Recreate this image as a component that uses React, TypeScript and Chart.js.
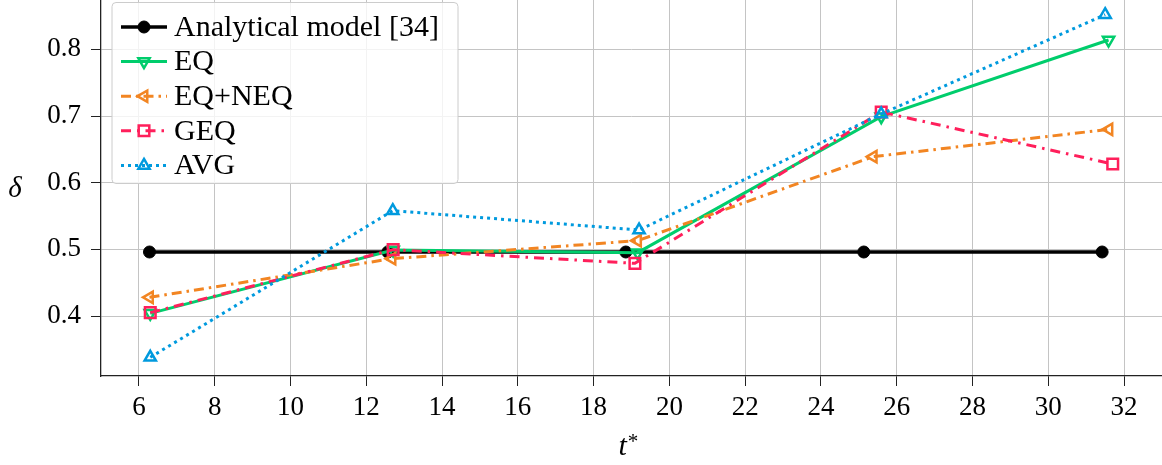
import { useEffect, useRef } from 'react';
import { Chart, registerables } from 'chart.js';

Chart.register(...registerables);

// Axis ticks
const xTicks = [6, 8, 10, 12, 14, 16, 18, 20, 22, 24, 26, 28, 30, 32];
const yTicks = [0.4, 0.5, 0.6, 0.7, 0.8];

// Analytical model [34]
const analyticalT = [6.28, 12.57, 18.85, 25.13, 31.42];
const analyticalDelta = [0.496, 0.496, 0.496, 0.496, 0.496];

// EQ
const eqT = [6.3, 12.71, 19.16, 25.59, 31.59];
const eqDelta = [0.404, 0.499, 0.495, 0.699, 0.814];

// EQ+NEQ
const eqNeqT = [6.28, 12.68, 19.16, 25.38, 31.6];
const eqNeqDelta = [0.428, 0.486, 0.513, 0.639, 0.68];

// GEQ
const geqT = [6.3, 12.71, 19.09, 25.59, 31.7];
const geqDelta = [0.405, 0.4995, 0.479, 0.706, 0.628];

// AVG
const avgT = [6.3, 12.7, 19.2, 25.59, 31.5];
const avgDelta = [0.338, 0.558, 0.529, 0.703, 0.852];

const SERIF = "'Liberation Serif', 'DejaVu Serif', serif";

const toPoints = (xs: number[], ys: number[]) => xs.map((x, i) => ({ x, y: ys[i] }));

// Draws a marker with the same geometry Chart.js uses for its point styles
function drawMarker(
  ctx: CanvasRenderingContext2D,
  style: string,
  x: number,
  y: number,
  r: number,
  rotDeg: number,
  fill: string,
  stroke: string,
  lw: number
) {
  ctx.save();
  ctx.beginPath();
  let rad = (rotDeg * Math.PI) / 180;
  if (style === 'circle') {
    ctx.arc(x, y, r, 0, Math.PI * 2);
  } else if (style === 'triangle') {
    ctx.moveTo(x + Math.sin(rad) * r, y - Math.cos(rad) * r);
    rad += (2 * Math.PI) / 3;
    ctx.lineTo(x + Math.sin(rad) * r, y - Math.cos(rad) * r);
    rad += (2 * Math.PI) / 3;
    ctx.lineTo(x + Math.sin(rad) * r, y - Math.cos(rad) * r);
    ctx.closePath();
  } else {
    const s = Math.SQRT1_2 * r;
    ctx.rect(x - s, y - s, 2 * s, 2 * s);
  }
  if (fill !== 'transparent') {
    ctx.fillStyle = fill;
    ctx.fill();
  }
  ctx.lineWidth = lw;
  ctx.strokeStyle = stroke;
  ctx.stroke();
  ctx.restore();
}

const overlayPlugin = {
  id: 'overlay',
  afterDraw(chart: any) {
    const ctx: CanvasRenderingContext2D = chart.ctx;
    const area = chart.chartArea;

    // Legend box inside the plot, upper left
    const bx = area.left + 11;
    const by = 2.5;
    const bw = 346;
    const bh = 181;
    ctx.save();
    ctx.beginPath();
    ctx.roundRect(bx, by, bw, bh, 4);
    ctx.fillStyle = 'rgba(255,255,255,0.8)';
    ctx.fill();
    ctx.lineWidth = 1;
    ctx.strokeStyle = '#cccccc';
    ctx.stroke();

    const rowY0 = 27;
    const rowGap = 34.6;
    const lineX0 = bx + 9;
    const lineX1 = bx + 55;
    const textX = bx + 62;
    chart.data.datasets.forEach((ds: any, i: number) => {
      const y = rowY0 + i * rowGap;
      ctx.save();
      ctx.beginPath();
      ctx.setLineDash(ds.borderDash || []);
      ctx.lineWidth = ds.borderWidth;
      ctx.strokeStyle = ds.borderColor;
      ctx.lineCap = 'butt';
      ctx.moveTo(lineX0, y);
      ctx.lineTo(lineX1, y);
      ctx.stroke();
      ctx.restore();
      drawMarker(
        ctx,
        ds.pointStyle,
        (lineX0 + lineX1) / 2,
        y,
        ds.pointRadius,
        ds.pointRotation || 0,
        ds.pointBackgroundColor,
        ds.pointBorderColor,
        ds.pointBorderWidth
      );
      ctx.fillStyle = '#000';
      ctx.font = `30px ${SERIF}`;
      ctx.textAlign = 'left';
      ctx.textBaseline = 'middle';
      ctx.fillText(ds.label, textX, y + 1);
    });
    ctx.restore();

    // Axis titles
    ctx.save();
    ctx.fillStyle = '#000';
    ctx.textBaseline = 'alphabetic';
    ctx.textAlign = 'left';
    ctx.font = `italic 30px ${SERIF}`;
    const tW = ctx.measureText('t').width;
    const cx = (area.left + area.right) / 2 - 13;
    ctx.fillText('t', cx, 455);
    ctx.font = `21px ${SERIF}`;
    ctx.fillText('*', cx + tW + 1, 448);

    ctx.font = `italic 29px ${SERIF}`;
    ctx.textAlign = 'center';
    ctx.fillText('δ', 15, 197);
    ctx.restore();
  },
};

export default function App() {
  const canvasRef = useRef<HTMLCanvasElement | null>(null);

  useEffect(() => {
    document.body.style.margin = '0';
    const canvas = canvasRef.current;
    if (!canvas) return;

    const chart = new Chart(canvas, {
      type: 'line',
      data: {
        datasets: [
          {
            label: 'Analytical model [34]',
            data: toPoints(analyticalT, analyticalDelta),
            borderColor: '#000000',
            borderWidth: 3.5,
            borderDash: [],
            pointStyle: 'circle',
            pointRadius: 6,
            pointRotation: 0,
            pointBackgroundColor: '#000000',
            pointBorderColor: '#000000',
            pointBorderWidth: 1,
            order: 5,
          },
          {
            label: 'EQ',
            data: toPoints(eqT, eqDelta),
            borderColor: '#00CD6C',
            borderWidth: 3,
            borderDash: [],
            pointStyle: 'triangle',
            pointRadius: 6.5,
            pointRotation: 180,
            pointBackgroundColor: 'transparent',
            pointBorderColor: '#00CD6C',
            pointBorderWidth: 2.5,
            order: 4,
          },
          {
            label: 'EQ+NEQ',
            data: toPoints(eqNeqT, eqNeqDelta),
            borderColor: '#F28522',
            borderWidth: 3,
            borderDash: [10, 5, 2.5, 5],
            pointStyle: 'triangle',
            pointRadius: 6.5,
            pointRotation: 270,
            pointBackgroundColor: 'transparent',
            pointBorderColor: '#F28522',
            pointBorderWidth: 2.5,
            order: 3,
          },
          {
            label: 'GEQ',
            data: toPoints(geqT, geqDelta),
            borderColor: '#FF1F5B',
            borderWidth: 3,
            borderDash: [10, 6, 2.5, 6],
            pointStyle: 'rect',
            pointRadius: 7.5,
            pointRotation: 0,
            pointBackgroundColor: 'transparent',
            pointBorderColor: '#FF1F5B',
            pointBorderWidth: 2.5,
            order: 2,
          },
          {
            label: 'AVG',
            data: toPoints(avgT, avgDelta),
            borderColor: '#009ADE',
            borderWidth: 3,
            borderDash: [3, 4],
            pointStyle: 'triangle',
            pointRadius: 6.5,
            pointRotation: 0,
            pointBackgroundColor: 'transparent',
            pointBorderColor: '#009ADE',
            pointBorderWidth: 2.5,
            order: 1,
          },
        ],
      },
      options: {
        responsive: false,
        animation: false,
        layout: { padding: 0, autoPadding: false },
        plugins: {
          legend: { display: false },
          tooltip: { enabled: false },
          title: { display: false },
        },
        elements: { line: { tension: 0, fill: false } },
        scales: {
          x: {
            type: 'linear',
            min: 5,
            max: 33,
            afterBuildTicks: (axis: any) => {
              axis.ticks = xTicks.map((v) => ({ value: v }));
            },
            afterFit: (axis: any) => {
              axis.height = 89;
              axis.paddingLeft = 0;
              axis.paddingRight = 0;
            },
            ticks: {
              color: '#000',
              font: { family: SERIF, size: 27 },
              padding: 6,
              maxRotation: 0,
              autoSkip: false,
            },
            grid: {
              color: '#c4c4c4',
              lineWidth: 1,
              tickLength: 10,
              tickColor: '#222',
              drawTicks: true,
            },
            border: { color: '#222', width: 1.3 },
          },
          y: {
            type: 'linear',
            min: 0.31,
            max: 0.874,
            afterBuildTicks: (axis: any) => {
              axis.ticks = yTicks.map((v) => ({ value: v }));
            },
            afterFit: (axis: any) => {
              axis.width = 101;
              axis.paddingTop = 0;
              axis.paddingBottom = 0;
            },
            ticks: {
              color: '#000',
              font: { family: SERIF, size: 27 },
              padding: 10,
              callback: (v: any) => Number(v).toFixed(1),
            },
            grid: {
              color: '#c4c4c4',
              lineWidth: 1,
              tickLength: 10,
              tickColor: '#222',
              drawTicks: true,
            },
            border: { color: '#222', width: 1.3 },
          },
        },
      },
      plugins: [overlayPlugin],
    });

    return () => chart.destroy();
  }, []);

  return (
    <div style={{ width: 1162, height: 465, background: '#fff' }}>
      <canvas ref={canvasRef} width={1162} height={465} />
    </div>
  );
}
